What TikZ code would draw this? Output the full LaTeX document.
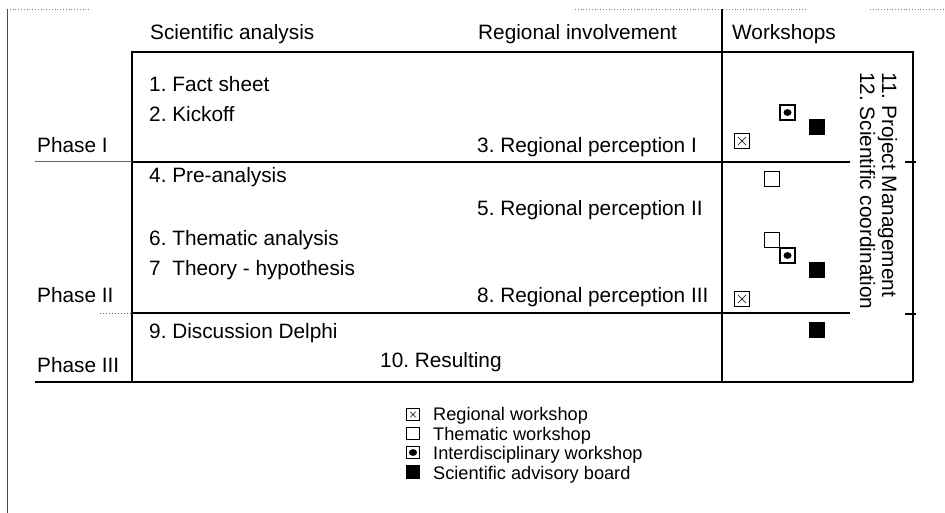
\documentclass[tikz,border=0pt]{standalone}
\usepackage{fontspec}
\setmainfont{Liberation Sans}
\frenchspacing
\begin{document}
\begin{tikzpicture}[x=1pt,y=-1pt,
  lbl/.style={anchor=base west, inner sep=0pt, font=\fontsize{20.8}{24}\selectfont\frenchspacing},
  leg/.style={anchor=base west, inner sep=0pt, font=\fontsize{18.2}{22}\selectfont\frenchspacing},
  frame/.style={line width=1.3pt, black},
  faint/.style={line width=0.8pt, gray, dotted},
  ws/.style={draw, fill=white, line width=1.2pt, minimum size=15pt, inner sep=0pt},
  themws/.style={ws},
  regws/.style={ws, path picture={
     \draw[black, line width=0.5pt] ([shift={(3.5pt,3.5pt)}]path picture bounding box.south west) -- ([shift={(-3.5pt,-3.5pt)}]path picture bounding box.north east);
     \draw[black, line width=0.5pt] ([shift={(-3.5pt,3.5pt)}]path picture bounding box.south east) -- ([shift={(3.5pt,-3.5pt)}]path picture bounding box.north west);}},
  interws/.style={ws, path picture={\fill[black] (path picture bounding box.center) ellipse (4pt and 3.4pt);}},
  sabws/.style={ws, fill=black},
  small/.style={minimum size=12.5pt, line width=1pt}
]
\fill[white] (0,0) rectangle (945,513);
\path[use as bounding box] (0,0) rectangle (945,513);

% page frame remnants
\draw[faint] (7,9) -- (90,9);
\draw[faint] (575,9) -- (805,9);
\draw[faint] (870,9) -- (945,9);
\draw[line width=0.9pt, black!70] (7,9) -- (7,513);

% table frame
\draw[frame] (722,9) -- (722,382);
\draw[frame] (132,382) -- (132,52) -- (913,52) -- (913,382);
\draw[frame] (35,382) -- (913,382);
% phase separators
\draw[line width=1pt, black!60] (35,162) -- (132,162);
\draw[frame] (132,162) -- (850,162);
\draw[frame] (905,162) -- (916,162);
\draw[line width=1pt, black!60, dotted] (100,313) -- (132,313);
\draw[frame] (132,313) -- (850,313);
\draw[frame] (905,314) -- (916,314);

% headers
\node[lbl] (hsa) at (150,40) {Scientific analysis};
\node[lbl] (hri) at (478,40) {Regional involvement};
\node[lbl] (hws) at (732,40) {Workshops};

% phases
\node[lbl] (p1) at (37,153) {Phase I};
\node[lbl] (p2) at (37,302) {Phase II};
\node[lbl] (p3) at (37,372) {Phase III};

% steps
\node[lbl] (s1t) at (149,92) {1. Fact sheet};
\node[lbl] (s2t) at (149,122) {2. Kickoff};
\node[lbl] (s3t) at (477,153) {3. Regional perception I};
\node[lbl] (s4t) at (149,183) {4. Pre-analysis};
\node[lbl] (s5t) at (477,216) {5. Regional perception II};
\node[lbl] (s6t) at (149,245) {6. Thematic analysis};
\node[lbl] (s7t) at (149,275) {7\phantom{.} Theory - hypothesis};
\node[lbl] (s8t) at (477,302) {8. Regional perception III};
\node[lbl] (s9t) at (149,338) {9. Discussion Delphi};
\node[lbl] (s10t) at (380,367) {10. Resulting};

% rotated management labels
\node[lbl, rotate=-90] (pm) at (882,72) {11. Project Management};
\node[lbl, rotate=-90] (sco) at (860,72) {12. Scientific coordination};

% workshop symbols
\node[interws] (i1) at (787.5,112.5) {};
\node[sabws] (b1) at (817,127) {};
\node[regws] (r1) at (742,141) {};
\node[themws] (t1) at (772,179) {};
\node[themws] (t2) at (772,240) {};
\node[interws] (i2) at (787.5,255.5) {};
\node[sabws] (b2) at (817,270) {};
\node[regws] (r2) at (742,299) {};
\node[sabws] (b3) at (817,330) {};

% legend
\node[regws, small] (lr) at (413,414.5) {};
\node[themws, small] (lt) at (413,433.5) {};
\node[interws, small] (li) at (413,452.5) {};
\node[sabws, small] (lb) at (413,472) {};
\node[leg] (lrt) at (433,420) {Regional workshop};
\node[leg] (ltt) at (433,440) {Thematic workshop};
\node[leg] (lit) at (433,459) {Interdisciplinary workshop};
\node[leg] (lbt) at (433,479) {Scientific advisory board};
\end{tikzpicture}
\end{document}
